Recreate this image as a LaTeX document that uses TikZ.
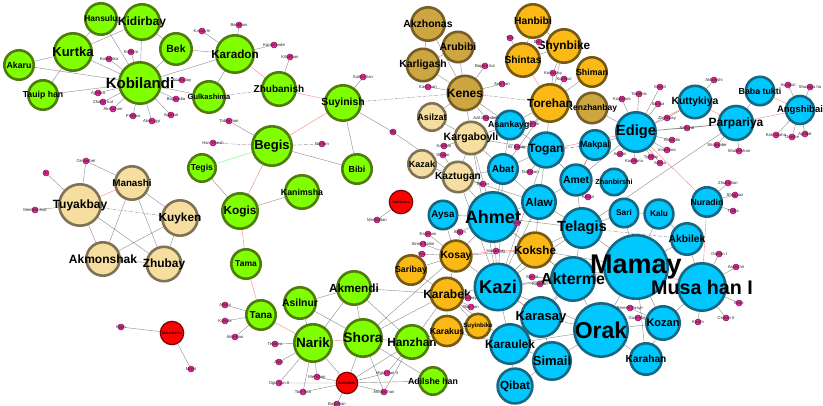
\documentclass[tikz,border=0pt]{standalone}
\usepackage{fontspec}
\setmainfont{Liberation Sans}
\usepackage{tikz}
\usetikzlibrary{shapes,arrows}
\pgfdeclarelayer{bg}
\pgfsetlayers{bg,main}
\definecolor{limeF}{RGB}{128,255,0}
\definecolor{limeD}{RGB}{78,125,12}
\definecolor{wheatF}{RGB}{245,222,160}
\definecolor{wheatD}{RGB}{128,115,85}
\definecolor{khakiF}{RGB}{205,165,65}
\definecolor{khakiD}{RGB}{118,94,40}
\definecolor{goldF}{RGB}{250,185,20}
\definecolor{goldD}{RGB}{118,90,20}
\definecolor{skyF}{RGB}{0,200,255}
\definecolor{skyD}{RGB}{22,104,130}
\definecolor{redF}{RGB}{255,0,0}
\definecolor{redD}{RGB}{120,0,0}
\definecolor{pinkF}{RGB}{228,40,150}
\definecolor{pinkD}{RGB}{150,20,95}
\tikzstyle{hero} = [circle, draw, line width=2.6pt, inner sep=0pt, text=black]
\tikzstyle{gnode} = [hero, fill=limeF, draw=limeD]
\tikzstyle{tnode} = [hero, fill=wheatF, draw=wheatD]
\tikzstyle{knode} = [hero, fill=khakiF, draw=khakiD]
\tikzstyle{onode} = [hero, fill=goldF, draw=goldD]
\tikzstyle{bnode} = [hero, fill=skyF, draw=skyD]
\tikzstyle{rnode} = [hero, fill=redF, draw=redD, line width=1.2pt]
\tikzstyle{lbl} = [font=\fontsize{4.2}{4.2}\selectfont, inner sep=0pt, text=black!85]
\tikzstyle{link} = [draw, black!45, line width=0.4pt]
\tikzstyle{rlink} = [draw, red!50, line width=0.4pt]
\tikzstyle{dlink} = [link, dash pattern=on 3pt off 1pt on 0.6pt off 1pt]
\tikzset{sz/.style n args={3}{minimum size={2*#1pt-2.6pt},
    label={[font=\bfseries\fontsize{#2}{#2}\selectfont, inner sep=0pt, text=black]center:#3}},
  dot/.style={circle, fill=pinkF, draw=pinkD, line width=0.5pt, minimum size=6pt, inner sep=0pt, label={[lbl]center:#1}}}

\begin{document}
\begin{tikzpicture}[x=1pt, y=-1pt]
    \begin{pgfonlayer}{bg}
    \fill[white] (0,0) rectangle (823,406);
    \end{pgfonlayer}
    \useasboundingbox (0,0) rectangle (823,406);

    % Place nodes
    % Kobilandi group
    \node [gnode, sz={22}{15}{Kobilandi}] (Kobilandi) at (140,83) {};
    \node [gnode, sz={20}{13}{Kurtka}] (Kurtka) at (73,52) {};
    \node [gnode, sz={19}{12}{Kidirbay}] (Kidirbay) at (142,22) {};
    \node [gnode, sz={17}{8.4}{Hansulu}] (Hansulu) at (101,19) {};
    \node [gnode, sz={16}{8.8}{Akaru}] (Akaru) at (19,65) {};
    \node [gnode, sz={16}{8.7}{Tauip han}] (Tauiphan) at (43,95) {};
    \node [gnode, sz={17}{10.4}{Bek}] (Bek) at (176,49) {};
    \node [gnode, sz={20}{11.7}{Karadon}] (Karadon) at (235,54) {};
    \node [gnode, sz={17}{7.5}{Gulkashima}] (Gulkashima) at (209,97) {};
    \node [gnode, sz={18}{10}{Zhubanish}] (Zhubanish) at (279,89) {};
    \node [gnode, sz={19}{10.4}{Suyinish}] (Suyinish) at (343,103) {};
    \node [gnode, sz={21}{13}{Begis}] (Begis) at (272,146) {};
    \node [gnode, sz={15}{8.7}{Tegis}] (Tegis) at (202,168) {};
    \node [gnode, sz={19}{11.8}{Kogis}] (Kogis) at (240,211) {};
    \node [gnode, sz={18}{8.8}{Kanimsha}] (Kanimsha) at (302,192) {};
    \node [gnode, sz={16}{8.8}{Bibi}] (Bibi) at (357,169) {};
    \node [gnode, sz={16}{8.5}{Tama}] (Tama) at (246,264) {};
    \node [gnode, sz={16}{10}{Tana}] (Tana) at (261,315) {};
    % Shora group
    \node [gnode, sz={17}{10.4}{Asilnur}] (Asilnur) at (300,303) {};
    \node [gnode, sz={18}{11.8}{Akmendi}] (Akmendi) at (354,288) {};
    \node [gnode, sz={20}{13.5}{Narik}] (Narik) at (313,343) {};
    \node [gnode, sz={20}{13.8}{Shora}] (Shora) at (363,338) {};
    \node [gnode, sz={18}{11.8}{Hanzhan}] (Hanzhan) at (412,342) {};
    \node [gnode, sz={15}{8.8}{Adilshe han}] (Adilshehan) at (433,381) {};
    % Manashi group
    \node [tnode, sz={18}{9.8}{Manashi}] (Manashi) at (132,183) {};
    \node [tnode, sz={22}{12}{Tuyakbay}] (Tuyakbay) at (80,205) {};
    \node [tnode, sz={19}{11.8}{Kuyken}] (Kuyken) at (180,218) {};
    \node [tnode, sz={18}{12}{Akmonshak}] (Akmonshak) at (103,259) {};
    \node [tnode, sz={18.5}{11.9}{Zhubay}] (Zhubay) at (164,264) {};
    % Red
    \node [rnode, sz={13}{3.5}{Sultankerim}] (Sultankerim) at (172,333) {};
    \node [rnode, sz={13}{3.5}{Kartkozha}] (Kartkozha) at (401,202) {};
    \node [rnode, sz={12}{3.5}{Kalinshek}] (Kalinshek) at (347,383) {};
    % Kenes group
    \node [knode, sz={18}{10.4}{Akzhonas}] (Akzhonas) at (428,24) {};
    \node [knode, sz={16.5}{10.5}{Arubibi}] (Arubibi) at (458,47) {};
    \node [knode, sz={17.5}{10.4}{Karligash}] (Karligash) at (423,65) {};
    \node [knode, sz={18.5}{12}{Kenes}] (Kenes) at (465,93) {};
    \node [knode, sz={16.5}{8.5}{Kenzhanbay}] (Kenzhanbay) at (592,108) {};
    \node [tnode, sz={15}{9}{Asilzat}] (Asilzat) at (432,117) {};
    \node [tnode, sz={17.5}{10.6}{Kargaboyli}] (Kargaboyli) at (471,138) {};
    \node [tnode, sz={15}{9}{Kazak}] (Kazak) at (422,164) {};
    \node [tnode, sz={16.5}{10.2}{Kaztugan}] (Kaztugan) at (458,177) {};
    % Torehan group
    \node [onode, sz={18}{10.3}{Hanbibi}] (Hanbibi) at (533,21) {};
    \node [onode, sz={18}{11.8}{Shynbike}] (Shynbike) at (564,46) {};
    \node [onode, sz={18}{10.2}{Shintas}] (Shintas) at (523,60) {};
    \node [onode, sz={16}{8.8}{Shiman}] (Shiman) at (592,72) {};
    \node [onode, sz={20}{11.8}{Torehan}] (Torehan) at (550,103) {};
    \node [onode, sz={18.7}{11.6}{Kokshe}] (Kokshe) at (535,250) {};
    \node [onode, sz={16.7}{10.3}{Kosay}] (Kosay) at (456,256) {};
    \node [onode, sz={16}{8.8}{Saribay}] (Saribay) at (411,270) {};
    \node [onode, sz={17.5}{12}{Karabek}] (Karabek) at (447,294) {};
    \node [onode, sz={16.3}{8.7}{Karakus}] (Karakus) at (447,331) {};
    \node [onode, sz={13.5}{6.2}{Suyinbike}] (Suyinbike) at (478,326) {};
    % Mamay group
    \node [bnode, sz={15.5}{8.7}{Asankaygi}] (Asankaygi) at (510,125) {};
    \node [bnode, sz={18.7}{12}{Togan}] (Togan) at (546,150) {};
    \node [bnode, sz={16}{10}{Abat}] (Abat) at (503,169) {};
    \node [bnode, sz={18}{11.7}{Alaw}] (Alaw) at (539,202) {};
    \node [bnode, sz={16.7}{10.4}{Amet}] (Amet) at (576,180) {};
    \node [bnode, sz={16}{8.8}{Makpal}] (Makpal) at (595,145) {};
    \node [bnode, sz={21}{14.7}{Edige}] (Edige) at (636,132) {};
    \node [bnode, sz={14.5}{7.3}{Zhanbirshi}] (Zhanbirshi) at (614,182) {};
    \node [bnode, sz={15.5}{8.3}{Sari}] (Sari) at (624,213) {};
    \node [bnode, sz={15.7}{8.3}{Kalu}] (Kalu) at (659,214) {};
    \node [bnode, sz={16}{8.7}{Nuradin}] (Nuradin) at (707,202) {};
    \node [bnode, sz={17}{10.3}{Akbilek}] (Akbilek) at (687,239) {};
    \node [bnode, sz={21}{14.7}{Telagis}] (Telagis) at (582,228) {};
    \node [bnode, sz={23}{16}{Akterme}] (Akterme) at (573,279) {};
    \node [bnode, sz={33}{27}{Mamay}] (Mamay) at (636,267) {};
    \node [bnode, sz={25}{19.7}{Musa han I}] (Musahan) at (702,287) {};
    \node [bnode, sz={28}{23}{Orak}] (Orak) at (601,330) {};
    \node [bnode, sz={18}{11}{Kozan}] (Kozan) at (663,323) {};
    \node [bnode, sz={17}{10.2}{Karahan}] (Karahan) at (646,359) {};
    \node [bnode, sz={20}{13}{Simail}] (Simail) at (552,361) {};
    \node [bnode, sz={21}{13}{Karasay}] (Karasay) at (541,317) {};
    \node [bnode, sz={24.5}{18.4}{Kazi}] (Kazi) at (498,287) {};
    \node [bnode, sz={26}{18}{Ahmet}] (Ahmet) at (493,217) {};
    \node [bnode, sz={15.5}{9.8}{Aysa}] (Aysa) at (443,215) {};
    \node [bnode, sz={21}{11.8}{Karaulek}] (Karaulek) at (510,344) {};
    \node [bnode, sz={18.7}{11.7}{Qibat}] (Qibat) at (515,386) {};
    \node [bnode, sz={17.5}{10.4}{Kuttykiya}] (Kuttykiya) at (695,102) {};
    \node [bnode, sz={18.3}{12}{Parpariya}] (Parpariya) at (736,123) {};
    \node [bnode, sz={15.5}{8.8}{Baba tukti}] (Babatukti) at (760,91) {};
    \node [bnode, sz={15.3}{9.5}{Angshibai}] (Angshibai) at (800,110) {};

    % Minor persons
    \node [dot=Koldoro] (Koldoro) at (131,52) {};
    \node [dot=Kokkeska] (Kokkeska) at (109,59) {};
    \node [dot=Aytolka] (Aytolka) at (98,93) {};
    \node [dot=Zhadyr kul] (Zhadyrkul) at (103,102) {};
    \node [dot=Akshahan] (Akshahan) at (113,109) {};
    \node [dot=Piraska] (Piraska) at (133,116) {};
    \node [dot=Akshagyr] (Akshagyr) at (152,121) {};
    \node [dot=Aparkul] (Aparkul) at (171,115) {};
    \node [dot=Boyauska] (Boyauska) at (176,99) {};
    \node [dot=Kozhabay] (Kozhabay) at (182,80) {};
    \node [dot=Karasym] (Karasym) at (202,31) {};
    \node [dot=Berdihan] (Berdihan) at (239,25) {};
    \node [dot=Karamende] (Karamende) at (274,45) {};
    \node [dot=Kilishhan] (Kilishhan) at (290,57) {};
    \node [dot=Sultan han] (Sultanhan) at (363,77) {};
    \node [dot=Nurhan] (Nurhan) at (322,144) {};
    \node [dot=Mja] (Mja) at (393,132) {};
    \node [dot=Tobilg han] (Tobilghan) at (229,121) {};
    \node [dot=Han Tinesh] (Hantinesh) at (213,143) {};
    \node [dot=Ormanbet] (Ormanbet) at (86,161) {};
    \node [dot=Ar] (Ar) at (46,173) {};
    \node [dot=Meirbek Kali] (Meirbek) at (35,210) {};
    \node [dot=Elgin] (Elgin) at (121,327) {};
    \node [dot=Mojet] (Mojet) at (191,369) {};
    \node [dot=Mendaltan] (Mendaltan) at (377,220) {};
    \node [dot=Baglan toz] (Baglantoz) at (485,66) {};
    \node [dot=Ardi han] (Ardihan) at (502,84) {};
    \node [dot=Kasy han] (Kasyhan) at (428,87) {};
    \node [dot=Tolo] (Tolo) at (510,38) {};
    \node [dot=Berik] (Berik) at (539,42) {};
    \node [dot=Kasarbay] (Kasarbay) at (553,73) {};
    \node [dot=Kozhkul] (Kozhkul) at (564,79) {};
    \node [dot=Azil Zhanibek] (Azil) at (486,118) {};
    \node [dot=Kulmin] (Kulmin) at (533,124) {};
    \node [dot=Er Kosay] (Erkosay) at (517,147) {};
    \node [dot=Tarakhan] (Tarakhan) at (530,172) {};
    \node [dot=Kambar] (Kambar) at (444,146) {};
    \node [dot=Sholan] (Sholan) at (443,155) {};
    \node [dot=Bayan] (Bayan) at (483,184) {};
    \node [dot=Esenhan] (Esenhan) at (428,234) {};
    \node [dot=Seme Bolim] (Semebolim) at (423,244) {};
    \node [dot=Siris] (Siris) at (422,254) {};
    \node [dot=Begim] (Begim) at (460,232) {};
    \node [dot=Hasanbay] (Hasanbay) at (496,251) {};
    \node [dot=Isen] (Isen) at (517,223) {};
    \node [dot=Samal] (Samal) at (532,277) {};
    \node [dot=Kabylan] (Kabylan) at (540,284) {};
    \node [dot=Suyinbay] (Suyinbay) at (468,298) {};
    \node [dot=Bas han] (Bashan) at (471,307) {};
    \node [dot=Akkozi] (Akkozi) at (588,197) {};
    \node [dot=Altinbi] (Altinbi) at (225,305) {};
    \node [dot=Kuanbi] (Kuanbi) at (225,321) {};
    \node [dot=Akterhan] (Akterhan) at (235,337) {};
    \node [dot=Telibora] (Telibora) at (275,344) {};
    \node [dot=Alshi] (Alshi) at (279,362) {};
    \node [dot=Ogiz han II] (Ogizhan) at (279,383) {};
    \node [dot=Tore han] (Torehan2) at (303,392) {};
    \node [dot=Menlihan] (Menlihan) at (317,377) {};
    \node [dot=Baybihan] (Baybihan) at (337,404) {};
    \node [dot=Musa han II] (Musahan2) at (387,373) {};
    \node [dot=Aktolat han] (Aktolat) at (384,392) {};
    \node [dot=Koylibara] (Koylibara) at (622,99) {};
    \node [dot=Tokarnis] (Tokarnis) at (639,94) {};
    \node [dot=Mandi] (Mandi) at (660,87) {};
    \node [dot=Sainsa] (Sainsa) at (658,104) {};
    \node [dot=Zhylikbay] (Zhylikbay) at (667,118) {};
    \node [dot=Saburat] (Saburat) at (687,128) {};
    \node [dot=Alauddin] (Alauddin) at (672,140) {};
    \node [dot=Imankara] (Imankara) at (667,150) {};
    \node [dot=Angkin] (Angkin) at (620,154) {};
    \node [dot=Kambaria] (Kambaria) at (634,161) {};
    \node [dot=Tyrlibay] (Tyrlibay) at (651,157) {};
    \node [dot=Salma] (Salma) at (660,163) {};
    \node [dot=Akbasshi] (Akbasshi) at (714,80) {};
    \node [dot=Shobanbe] (Shobanbe) at (717,145) {};
    \node [dot=Shukerkhan] (Shukerkhan) at (739,151) {};
    \node [dot=Aynakul] (Aynakul) at (788,85) {};
    \node [dot=Shazaga ha] (Shazaga) at (810,87) {};
    \node [dot=Karmalaha] (Karmalaha) at (776,135) {};
    \node [dot=Orashe] (Orashe) at (792,137) {};
    \node [dot=Agribat] (Agribat) at (805,134) {};
    \node [dot=Zhubishan] (Zhubishan) at (728,183) {};
    \node [dot=Shagaaz] (Shagaaz) at (735,195) {};
    \node [dot=Tilaba] (Tilaba) at (733,211) {};
    \node [dot=Osman I] (Osman) at (719,254) {};
    \node [dot=Asanzhir] (Asanzhir) at (736,267) {};
    \node [dot=Basli] (Basli) at (739,303) {};
    \node [dot=Osman II] (Osman2) at (726,318) {};
    \node [dot=Kasim] (Kasim) at (698,322) {};
    \node [dot=Berekh Basyir] (Berekh) at (630,308) {};
    \node [dot=Gusli Biriy] (Gusli) at (638,318) {};

    % Draw edges
    \begin{pgfonlayer}{bg}
    % Kobilandi group
    \draw [link] (Kurtka) -- (Hansulu) (Kurtka) -- (Kidirbay) (Kurtka) -- (Akaru) (Kurtka) -- (Tauiphan)
        (Kurtka) -- (Kobilandi) (Akaru) -- (Kobilandi) (Tauiphan) -- (Kobilandi) (Hansulu) -- (Kidirbay)
        (Hansulu) -- (Kobilandi) (Kidirbay) -- (Kobilandi) (Kidirbay) -- (Bek) (Bek) -- (Kobilandi)
        (Bek) -- (Karadon) (Kobilandi) -- (Karadon) (Karadon) -- (Gulkashima) (Kobilandi) -- (Gulkashima)
        (Kobilandi) -- (Koldoro) (Kobilandi) -- (Kokkeska) (Kobilandi) -- (Aytolka) (Kobilandi) -- (Zhadyrkul)
        (Kobilandi) -- (Akshahan) (Kobilandi) -- (Piraska) (Kobilandi) -- (Akshagyr) (Kobilandi) -- (Aparkul)
        (Kobilandi) -- (Boyauska) (Kobilandi) -- (Kozhabay) (Karadon) -- (Karasym) (Karadon) -- (Berdihan)
        (Karadon) -- (Karamende) (Zhubanish) -- (Kilishhan);
    \draw [dlink] (Gulkashima) -- (Zhubanish);
    \draw [rlink] (Karadon) -- (Zhubanish) (Zhubanish) -- (Suyinish) (Begis) -- (Suyinish)
        (Begis) -- (Kogis) (Kogis) -- (Tama) (Tama) -- (Tana) (Tana) -- (Narik);
    \draw [link] (Suyinish) -- (Sultanhan) (Suyinish) -- (Bibi) (Suyinish) -- (Mja) (Mja) -- (Kaztugan)
        (Begis) -- (Tobilghan) (Begis) -- (Bibi) (Tegis) -- (Kogis) (Kogis) -- (Kanimsha)
        (Tana) -- (Altinbi) (Tana) -- (Kuanbi) (Tana) -- (Akterhan);
    \draw [dlink] (Suyinish) -- (Kenes) (Begis) -- (Nurhan) (Begis) -- (Hantinesh) (Kenes) -- (Torehan);
    \draw [green!60, line width=0.4pt] (Begis) -- (Tegis);
    % Manashi group
    \draw [rlink] (Manashi) -- (Tuyakbay);
    \draw [link] (Manashi) -- (Kuyken) (Manashi) -- (Akmonshak) (Manashi) -- (Zhubay) (Tuyakbay) -- (Akmonshak)
        (Tuyakbay) -- (Zhubay) (Kuyken) -- (Akmonshak) (Kuyken) -- (Zhubay) (Akmonshak) -- (Zhubay)
        (Tuyakbay) -- (Ormanbet) (Tuyakbay) -- (Ar) (Ormanbet) -- (Manashi) (Tuyakbay) -- (Meirbek)
        (Sultankerim) -- (Elgin) (Sultankerim) -- (Mojet) (Kartkozha) -- (Mendaltan);
    \draw [dlink] (Tuyakbay) -- (Kuyken);
    % Kenes and Torehan groups
    \draw [link] (Akzhonas) -- (Karligash) (Akzhonas) -- (Kenes) (Arubibi) -- (Kenes) (Karligash) -- (Kenes)
        (Karligash) -- (Arubibi) (Kenes) -- (Baglantoz) (Kenes) -- (Ardihan) (Kenes) -- (Kasyhan)
        (Kenes) -- (Kargaboyli) (Kenes) -- (Asankaygi) (Kenes) -- (Azil) (Kenes) -- (Asilzat)
        (Hanbibi) -- (Shintas) (Hanbibi) -- (Shynbike) (Shynbike) -- (Shintas) (Shintas) -- (Tolo)
        (Shynbike) -- (Berik) (Shynbike) -- (Torehan) (Shiman) -- (Torehan) (Shynbike) -- (Kasarbay)
        (Torehan) -- (Kozhkul) (Torehan) -- (Kasarbay) (Torehan) -- (Kenzhanbay) (Torehan) -- (Togan)
        (Torehan) -- (Asankaygi) (Torehan) -- (Abat) (Torehan) -- (Kulmin)
        (Asilzat) -- (Kargaboyli) (Kargaboyli) -- (Kaztugan) (Kazak) -- (Kaztugan) (Kargaboyli) -- (Kambar)
        (Kaztugan) -- (Sholan) (Kaztugan) -- (Bayan) (Kargaboyli) -- (Abat) (Kaztugan) -- (Abat)
        (Kaztugan) -- (Ahmet) (Kargaboyli) -- (Ahmet) (Kargaboyli) -- (Asankaygi) (Kargaboyli) -- (Togan)
        (Kaztugan) -- (Alaw) (Kargaboyli) -- (Kazi) (Kaztugan) -- (Kazi);
    \draw [rlink] (Shintas) -- (Torehan);
    % Mamay group
    \draw [link] (Asankaygi) -- (Togan) (Asankaygi) -- (Abat) (Abat) -- (Togan) (Abat) -- (Alaw)
        (Abat) -- (Ahmet) (Togan) -- (Alaw) (Togan) -- (Amet) (Togan) -- (Erkosay) (Togan) -- (Tarakhan)
        (Alaw) -- (Ahmet) (Alaw) -- (Telagis) (Alaw) -- (Amet) (Alaw) -- (Kokshe) (Alaw) -- (Kazi)
        (Ahmet) -- (Kazi) (Ahmet) -- (Kokshe) (Ahmet) -- (Aysa) (Ahmet) -- (Isen) (Ahmet) -- (Begim)
        (Ahmet) -- (Kosay) (Ahmet) -- (Telagis) (Ahmet) -- (Akterme) (Abat) -- (Kazi) (Togan) -- (Kazi)
        (Kazi) -- (Kokshe) (Kazi) -- (Akterme) (Kazi) -- (Karasay) (Kazi) -- (Karabek) (Kazi) -- (Kosay)
        (Kazi) -- (Karaulek) (Kazi) -- (Orak) (Kazi) -- (Mamay) (Kazi) -- (Telagis) (Kokshe) -- (Telagis)
        (Kokshe) -- (Akterme) (Kokshe) -- (Mamay) (Telagis) -- (Mamay) (Telagis) -- (Akterme)
        (Telagis) -- (Sari) (Telagis) -- (Amet) (Telagis) -- (Parpariya) (Amet) -- (Makpal) (Amet) -- (Edige)
        (Amet) -- (Zhanbirshi) (Amet) -- (Akkozi) (Makpal) -- (Edige) (Edige) -- (Kenzhanbay)
        (Edige) -- (Parpariya) (Edige) -- (Koylibara) (Edige) -- (Tokarnis) (Edige) -- (Mandi)
        (Edige) -- (Sainsa) (Edige) -- (Zhylikbay) (Edige) -- (Saburat) (Edige) -- (Alauddin)
        (Edige) -- (Imankara) (Edige) -- (Angkin) (Edige) -- (Kambaria) (Edige) -- (Tyrlibay) (Edige) -- (Salma)
        (Kuttykiya) -- (Akbasshi) (Kuttykiya) -- (Zhylikbay) (Parpariya) -- (Babatukti)
        (Parpariya) -- (Shobanbe) (Parpariya) -- (Shukerkhan) (Parpariya) -- (Saburat)
        (Angshibai) -- (Aynakul) (Angshibai) -- (Shazaga) (Angshibai) -- (Karmalaha) (Angshibai) -- (Orashe)
        (Angshibai) -- (Agribat) (Nuradin) -- (Zhubishan) (Nuradin) -- (Shagaaz) (Nuradin) -- (Tilaba)
        (Mamay) -- (Sari) (Mamay) -- (Kalu) (Mamay) -- (Akbilek) (Mamay) -- (Kozan) (Mamay) -- (Orak)
        (Mamay) -- (Akterme) (Mamay) -- (Karahan) (Kalu) -- (Akbilek) (Sari) -- (Kalu) (Akbilek) -- (Musahan)
        (Musahan) -- (Kozan) (Musahan) -- (Osman) (Musahan) -- (Asanzhir) (Musahan) -- (Basli)
        (Musahan) -- (Osman2) (Musahan) -- (Kasim) (Kozan) -- (Karahan) (Kozan) -- (Orak)
        (Kozan) -- (Berekh) (Kozan) -- (Gusli) (Orak) -- (Karahan) (Orak) -- (Simail) (Orak) -- (Akterme)
        (Orak) -- (Karasay) (Orak) -- (Karaulek) (Akterme) -- (Karasay) (Akterme) -- (Karaulek)
        (Akterme) -- (Samal) (Akterme) -- (Kabylan) (Karasay) -- (Simail) (Karasay) -- (Karaulek)
        (Karaulek) -- (Simail) (Karaulek) -- (Qibat) (Simail) -- (Qibat) (Karaulek) -- (Karabek)
        (Karabek) -- (Kosay) (Karabek) -- (Saribay) (Karabek) -- (Karakus) (Karabek) -- (Suyinbike)
        (Karabek) -- (Suyinbay) (Karabek) -- (Bashan) (Karakus) -- (Suyinbike) (Karakus) -- (Karaulek)
        (Kosay) -- (Saribay) (Kosay) -- (Esenhan) (Kosay) -- (Semebolim) (Kosay) -- (Siris)
        (Kosay) -- (Aysa) (Kosay) -- (Begim) (Kosay) -- (Kokshe);
    \draw [rlink] (Togan) -- (Edige) (Edige) -- (Kuttykiya) (Edige) -- (Nuradin) (Kuttykiya) -- (Parpariya)
        (Parpariya) -- (Angshibai) (Babatukti) -- (Angshibai) (Nuradin) -- (Musahan) (Mamay) -- (Musahan)
        (Kokshe) -- (Hasanbay) (Kosay) -- (Hasanbay) (Amet) -- (Makpal) (Karasay) -- (Kazi);
    \draw [dlink] (Telagis) -- (Akbilek);
    \draw [blue!70, dashed, line width=0.5pt] (Togan) -- (Makpal);
    % Shora group
    \draw [link] (Akmendi) -- (Asilnur) (Akmendi) -- (Narik) (Akmendi) -- (Shora) (Akmendi) -- (Hanzhan)
        (Asilnur) -- (Narik) (Asilnur) -- (Shora) (Shora) -- (Hanzhan) (Shora) -- (Adilshehan)
        (Narik) -- (Kalinshek) (Shora) -- (Kalinshek) (Hanzhan) -- (Kalinshek) (Kalinshek) -- (Adilshehan)
        (Narik) -- (Telibora) (Narik) -- (Alshi) (Narik) -- (Ogizhan) (Narik) -- (Torehan2) (Narik) -- (Menlihan)
        (Kalinshek) -- (Musahan2) (Kalinshek) -- (Aktolat) (Kalinshek) -- (Baybihan) (Kalinshek) -- (Torehan2)
        (Kalinshek) -- (Ogizhan) (Kalinshek) -- (Menlihan) (Shora) -- (Karabek) (Shora) -- (Kosay)
        (Akmendi) -- (Karabek) (Hanzhan) -- (Karabek) (Hanzhan) -- (Karakus) (Hanzhan) -- (Aktolat)
        (Hanzhan) -- (Musahan2) (Shora) -- (Aktolat);
    \draw [rlink] (Narik) -- (Shora);
    \end{pgfonlayer}

\end{tikzpicture}
\end{document}
